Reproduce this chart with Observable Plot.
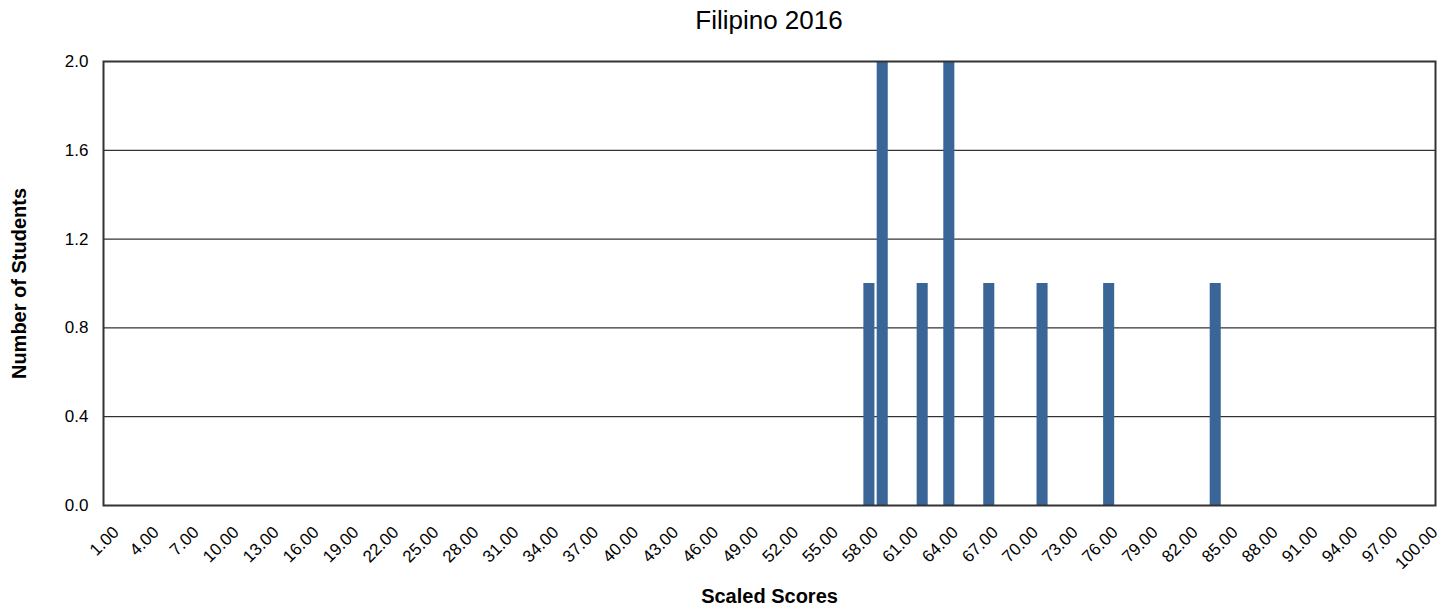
<!DOCTYPE html>
<html>
<head>
<meta charset="utf-8">
<script src="https://cdn.jsdelivr.net/npm/d3@7"></script>
<script src="https://cdn.jsdelivr.net/npm/@observablehq/plot@0.6"></script>
<style>
  body { margin: 0; background: #fff; font-family: "Liberation Sans", Arial, sans-serif; }
  #title { height: 40px; line-height: 40px; width: 1332px; padding-left: 103px; text-align: center; font-size: 26px; color: #000; }
  #chart svg { display: block; }
</style>
</head>
<body>
<div id="title">Filipino 2016</div>
<div id="chart"></div>
<script>
// Score categories on the x axis (1.00 ... 100.00)
const scoreCategories = [1,2,3,4,5,6,7,8,9,10,11,12,13,14,15,16,17,18,19,20,
  21,22,23,24,25,26,27,28,29,30,31,32,33,34,35,36,37,38,39,40,
  41,42,43,44,45,46,47,48,49,50,51,52,53,54,55,56,57,58,59,60,
  61,62,63,64,65,66,67,68,69,70,71,72,73,74,75,76,77,78,79,80,
  81,82,83,84,85,86,87,88,89,90,91,92,93,94,95,96,97,98,99,100];
// Scores that have students, and their counts
const barScores = [58, 59, 62, 64, 67, 71, 76, 84];
const barCounts = [1, 2, 1, 2, 1, 1, 1, 1];
// Tick labels
const xTickLabels = [1,4,7,10,13,16,19,22,25,28,31,34,37,40,43,46,49,52,55,58,61,64,67,70,73,76,79,82,85,88,91,94,97,100];
const yTickLabels = [0, 0.4, 0.8, 1.2, 1.6, 2.0];
const xTitle = "Scaled Scores";
const yTitle = "Number of Students";

const data = barScores.map((s, i) => ({score: s, count: barCounts[i]}));

const chart = Plot.plot({
  width: 1455,
  height: 571,
  marginLeft: 103,
  marginRight: 20,
  marginTop: 21,
  marginBottom: 106,
  style: { fontFamily: "'Liberation Sans', Arial, sans-serif", color: "#000", background: "#fff" },
  x: { type: "band", domain: scoreCategories, paddingInner: 0.17, paddingOuter: 0.085 },
  y: { domain: [0, 2] },
  marks: [
    Plot.gridY(yTickLabels, { stroke: "#000", strokeOpacity: 1, strokeWidth: 1 }),
    Plot.barY(data, { x: "score", y: "count", fill: "#3a6597" }),
    Plot.frame({ stroke: "#333", strokeWidth: 2 }),
    Plot.axisX({ ticks: xTickLabels, tickFormat: d => d.toFixed(2), tickRotate: -45, tickSize: 0, tickPadding: 24, dx: 6, fontSize: 17, label: null }),
    Plot.axisY({ ticks: yTickLabels, tickFormat: d => d.toFixed(1), tickSize: 0, tickPadding: 15, fontSize: 17, label: null }),
    Plot.text([xTitle], { frameAnchor: "bottom", lineAnchor: "middle", dy: 91, fontWeight: "bold", fontSize: 20, fill: "#000" }),
    Plot.text([yTitle], { frameAnchor: "left", textAnchor: "middle", lineAnchor: "middle", dx: -84, rotate: -90, fontWeight: "bold", fontSize: 20, fill: "#000" })
  ]
});
document.getElementById("chart").appendChild(chart);
</script>
</body>
</html>
